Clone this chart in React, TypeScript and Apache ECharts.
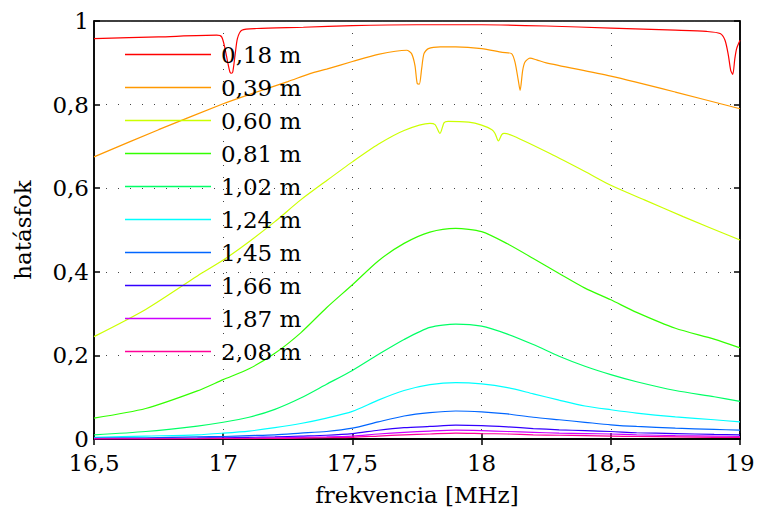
import React, { useEffect, useRef } from "react";
import * as echarts from "echarts";

// ---- data ----
const seriesNames = ["0,18 m", "0,39 m", "0,60 m", "0,81 m", "1,02 m", "1,24 m", "1,45 m", "1,66 m", "1,87 m", "2,08 m"];
const seriesColors = ["#ff0000", "#ff9900", "#ccff00", "#33ff00", "#00ff66", "#00ffff", "#0066ff", "#3300ff", "#cc00ff", "#ff0099"];

const xTickLabels = ["16,5", "17", "17,5", "18", "18,5", "19"];
const yTickLabels = ["0", "0,2", "0,4", "0,6", "0,8", "1"];

const freq018 = [16.5, 16.75, 16.975, 16.994, 17.007, 17.016, 17.026, 17.032, 17.037, 17.046, 17.055, 17.072, 17.13, 17.31, 17.5, 17.75, 18.0, 18.25, 18.5, 18.75, 18.87, 18.923, 18.942, 18.955, 18.964, 18.972, 18.98, 18.987, 19.0];
const eff018 = [0.958, 0.962, 0.966, 0.962, 0.934, 0.906, 0.878, 0.875, 0.878, 0.918, 0.958, 0.978, 0.982, 0.985, 0.989, 0.991, 0.991, 0.988, 0.983, 0.978, 0.975, 0.970, 0.954, 0.918, 0.882, 0.872, 0.910, 0.934, 0.954];

const freq039 = [16.5, 16.75, 17.0, 17.1, 17.25, 17.336, 17.4, 17.5, 17.6, 17.71, 17.729, 17.742, 17.751, 17.759, 17.768, 17.777, 17.794, 17.84, 17.9, 18.0, 18.08, 18.116, 18.129, 18.142, 18.149, 18.159, 18.168, 18.187, 18.213, 18.25, 18.5, 18.75, 19.0];
const eff039 = [0.675, 0.740, 0.802, 0.824, 0.855, 0.874, 0.885, 0.903, 0.920, 0.930, 0.922, 0.894, 0.850, 0.849, 0.886, 0.922, 0.934, 0.938, 0.938, 0.934, 0.925, 0.922, 0.902, 0.858, 0.834, 0.882, 0.902, 0.911, 0.907, 0.900, 0.868, 0.830, 0.790];

const freq060 = [16.5, 16.7, 16.9, 17.0, 17.1, 17.2, 17.3, 17.4, 17.5, 17.6, 17.7, 17.80, 17.82, 17.839, 17.855, 17.87, 17.95, 18.0, 18.04, 18.052, 18.065, 18.078, 18.087, 18.123, 18.265, 18.4, 18.5, 18.63, 18.78, 19.0];
const eff060 = [0.245, 0.310, 0.390, 0.428, 0.472, 0.520, 0.572, 0.618, 0.663, 0.705, 0.738, 0.755, 0.752, 0.731, 0.757, 0.760, 0.758, 0.751, 0.740, 0.731, 0.713, 0.728, 0.731, 0.725, 0.683, 0.640, 0.607, 0.572, 0.532, 0.476];

const freqLow = [16.5, 16.7, 16.9, 17.0, 17.1, 17.2, 17.3, 17.4, 17.5, 17.6, 17.7, 17.8, 17.9, 18.0, 18.1, 18.2, 18.3, 18.4, 18.5, 18.6, 18.75, 18.9, 19.0];
const eff081 = [0.050, 0.073, 0.115, 0.142, 0.168, 0.205, 0.254, 0.314, 0.369, 0.426, 0.468, 0.495, 0.504, 0.496, 0.467, 0.432, 0.396, 0.361, 0.333, 0.303, 0.265, 0.239, 0.218];
const eff102 = [0.010, 0.018, 0.031, 0.040, 0.052, 0.071, 0.098, 0.131, 0.164, 0.202, 0.238, 0.267, 0.275, 0.270, 0.251, 0.226, 0.198, 0.174, 0.154, 0.137, 0.116, 0.101, 0.090];
const eff124 = [0.004, 0.007, 0.010, 0.014, 0.019, 0.027, 0.037, 0.050, 0.066, 0.093, 0.116, 0.130, 0.135, 0.132, 0.123, 0.108, 0.093, 0.079, 0.070, 0.062, 0.053, 0.046, 0.041];
const eff145 = [0.002, 0.003, 0.005, 0.006, 0.008, 0.010, 0.014, 0.018, 0.026, 0.041, 0.055, 0.063, 0.067, 0.065, 0.060, 0.052, 0.046, 0.040, 0.034, 0.030, 0.026, 0.023, 0.021];
const eff166 = [0.001, 0.001, 0.002, 0.003, 0.004, 0.005, 0.007, 0.009, 0.013, 0.021, 0.027, 0.030, 0.033, 0.032, 0.029, 0.025, 0.022, 0.020, 0.018, 0.015, 0.013, 0.011, 0.010];
const eff187 = [0.0005, 0.0007, 0.001, 0.0015, 0.002, 0.003, 0.004, 0.005, 0.007, 0.012, 0.016, 0.019, 0.021, 0.020, 0.018, 0.016, 0.014, 0.013, 0.012, 0.010, 0.008, 0.007, 0.006];
const eff208 = [0.0003, 0.0004, 0.0006, 0.0008, 0.001, 0.0015, 0.002, 0.003, 0.004, 0.007, 0.010, 0.012, 0.014, 0.013, 0.012, 0.010, 0.009, 0.008, 0.007, 0.006, 0.005, 0.004, 0.004];

const seriesFreqs = [freq018, freq039, freq060, freqLow, freqLow, freqLow, freqLow, freqLow, freqLow, freqLow];
const seriesEffs = [eff018, eff039, eff060, eff081, eff102, eff124, eff145, eff166, eff187, eff208];

const FONT = "DejaVu Serif";

export default function App() {
  const ref = useRef<HTMLDivElement>(null);
  useEffect(() => {
    if (!ref.current) return;
    const chart = echarts.init(ref.current, null, { renderer: "svg" });
    const xVals = [16.5, 17, 17.5, 18, 18.5, 19];
    const yVals = [0, 0.2, 0.4, 0.6, 0.8, 1];
    const xFmt = (v: number) => {
      const i = xVals.findIndex((t) => Math.abs(t - v) < 1e-6);
      return i >= 0 ? xTickLabels[i] : "";
    };
    const yFmt = (v: number) => {
      const i = yVals.findIndex((t) => Math.abs(t - v) < 1e-6);
      return i >= 0 ? yTickLabels[i] : "";
    };
    const gridLine = { show: true, lineStyle: { color: "#444", width: 1, type: [1, 11] as any } };
    const series: any[] = seriesNames.map((name, k) => ({
      name,
      type: "line",
      xAxisIndex: 0,
      yAxisIndex: 0,
      symbol: "none",
      smooth: 0.25,
      data: seriesFreqs[k].map((f, i) => [f, seriesEffs[k][i]]),
      lineStyle: { color: seriesColors[k], width: 1.2 },
      itemStyle: { color: seriesColors[k] },
    }));
    chart.setOption({
      animation: false,
      backgroundColor: "#fff",
      grid: { left: 94, right: 21, top: 21, bottom: 72, show: true, borderColor: "#000", borderWidth: 1.5, backgroundColor: "transparent" },
      legend: {
        orient: "vertical",
        left: 125,
        top: 43,
        padding: 0,
        icon: "rect",
        itemWidth: 86,
        itemHeight: 1.5,
        itemGap: 10,
        data: seriesNames,
        textStyle: { fontFamily: FONT, fontSize: 23, color: "#000", lineHeight: 22, padding: [0, 0, 0, 5] },
      },
      xAxis: [
        {
          type: "value",
          min: 16.5,
          max: 19,
          interval: 0.5,
          name: "frekvencia [MHz]",
          nameLocation: "middle",
          nameGap: 44,
          nameTextStyle: { fontFamily: FONT, fontSize: 23, color: "#000" },
          axisLine: { show: true, lineStyle: { color: "#000", width: 1.5 } },
          axisTick: { show: true, inside: true, length: 6, lineStyle: { color: "#000", width: 1.5 } },
          axisLabel: { fontFamily: FONT, fontSize: 23, color: "#000", margin: 15, lineHeight: 18, formatter: xFmt },
          splitLine: gridLine,
        },
        {
          type: "value",
          position: "top",
          min: 16.5,
          max: 19,
          interval: 0.5,
          axisLine: { show: true, lineStyle: { color: "#000", width: 1.5 } },
          axisTick: { show: true, inside: true, length: 6, lineStyle: { color: "#000", width: 1.5 } },
          axisLabel: { show: false },
          splitLine: { show: false },
        },
      ],
      yAxis: [
        {
          type: "value",
          min: 0,
          max: 1,
          interval: 0.2,
          name: "hatásfok",
          nameLocation: "middle",
          nameGap: 60,
          nameTextStyle: { fontFamily: FONT, fontSize: 23, color: "#000" },
          axisLine: { show: true, lineStyle: { color: "#000", width: 1.5 } },
          axisTick: { show: true, inside: true, length: 6, lineStyle: { color: "#000", width: 1.5 } },
          axisLabel: { fontFamily: FONT, fontSize: 23, color: "#000", margin: 5, lineHeight: 18, formatter: yFmt },
          splitLine: gridLine,
        },
        {
          type: "value",
          position: "right",
          min: 0,
          max: 1,
          interval: 0.2,
          axisLine: { show: true, lineStyle: { color: "#000", width: 1.5 } },
          axisTick: { show: true, inside: true, length: 6, lineStyle: { color: "#000", width: 1.5 } },
          axisLabel: { show: false },
          splitLine: { show: false },
        },
      ],
      series,
    });
    return () => chart.dispose();
  }, []);
  return <div ref={ref} style={{ width: 761, height: 511, position: "absolute", left: 0, top: 0 }} />;
}
